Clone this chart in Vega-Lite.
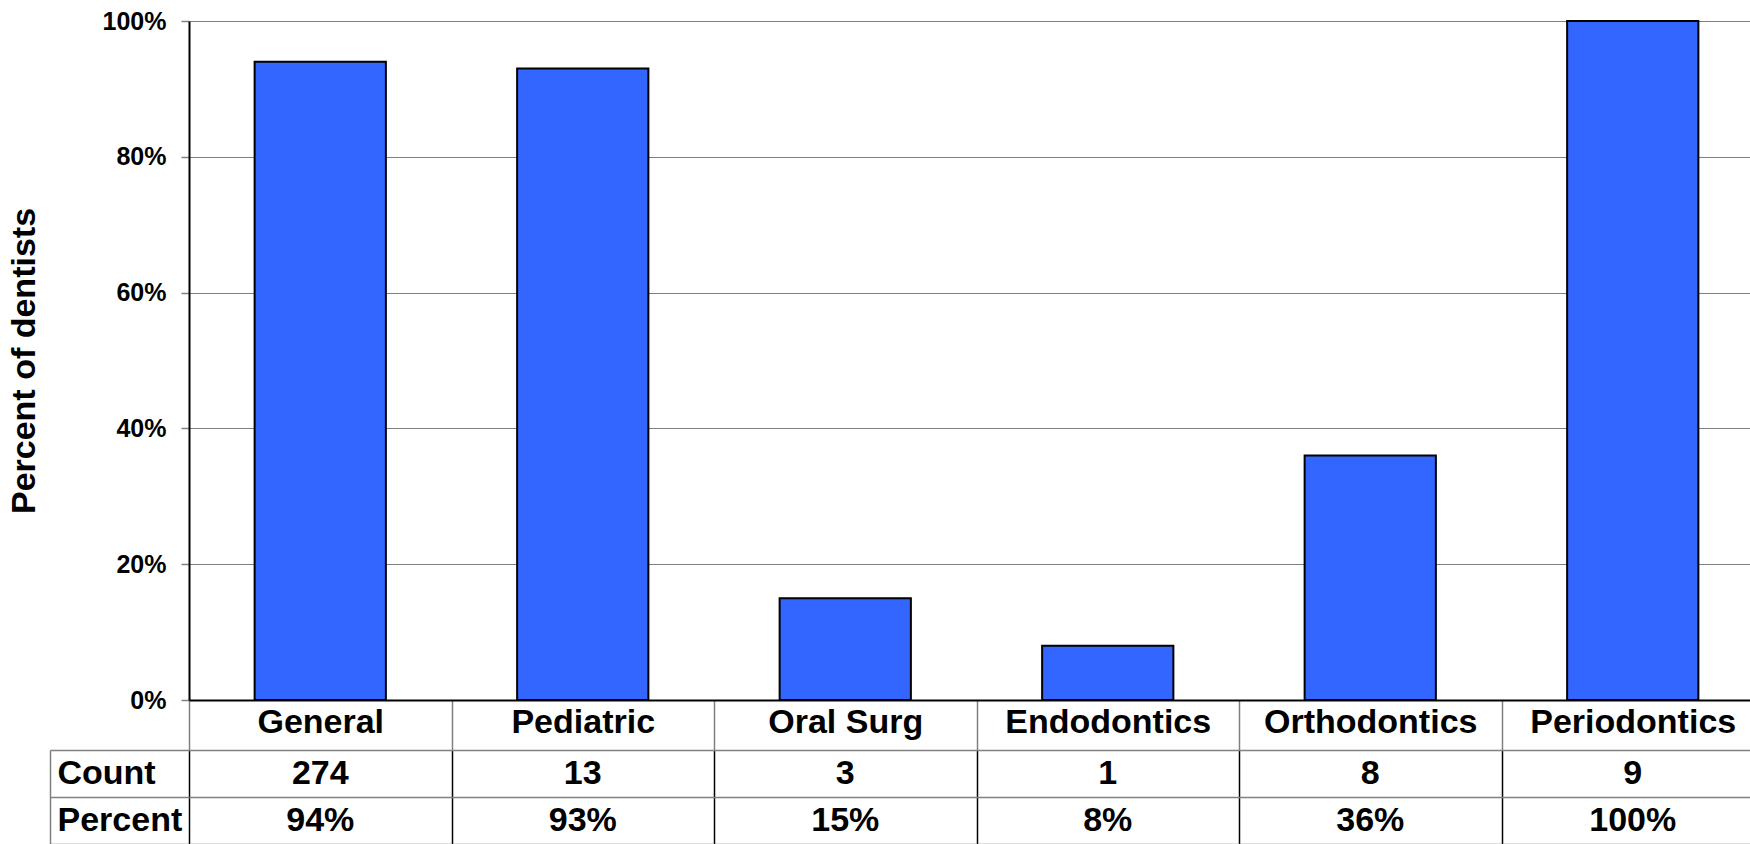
{
  "$schema": "https://vega.github.io/schema/vega-lite/v6.json",
  "padding": {"left": 7, "top": 9, "right": 0, "bottom": 0},
  "background": "white",
  "spacing": 50,
  "bounds": "flush",
  "datasets": {
    "dentists": [
      {"specialty": "General", "pct": 94, "Count": "274", "Percent": "94%"},
      {"specialty": "Pediatric", "pct": 93, "Count": "13", "Percent": "93%"},
      {"specialty": "Oral Surg", "pct": 15, "Count": "3", "Percent": "15%"},
      {"specialty": "Endodontics", "pct": 8, "Count": "1", "Percent": "8%"},
      {"specialty": "Orthodontics", "pct": 36, "Count": "8", "Percent": "36%"},
      {"specialty": "Periodontics", "pct": 100, "Count": "9", "Percent": "100%"}
    ]
  },
  "vconcat": [
    {
      "width": 1575,
      "height": 679,
      "data": {"name": "dentists"},
      "mark": {"type": "bar", "fill": "#3366FF", "stroke": "black", "strokeWidth": 2, "width": {"band": 0.5}},
      "encoding": {
        "x": {
          "field": "specialty",
          "type": "nominal",
          "sort": null,
          "scale": {"paddingInner": 0, "paddingOuter": 0},
          "axis": {
            "title": null,
            "labelAngle": 0,
            "labelLimit": 600,
            "labelFont": "Liberation Sans",
            "labelFontSize": 34,
            "labelFontWeight": "bold",
            "labelColor": "black",
            "labelBaseline": "middle",
            "labelPadding": -28,
            "tickBand": "extent",
            "tickSize": 50,
            "tickColor": "#808080",
            "tickWidth": 1.5,
            "domainColor": "black",
            "domainWidth": 2
          }
        },
        "y": {
          "field": "pct",
          "type": "quantitative",
          "scale": {"domain": [0, 100], "nice": false},
          "axis": {
            "values": [0, 20, 40, 60, 80, 100],
            "labelExpr": "datum.value + '%'",
            "labelFont": "Liberation Sans",
            "labelFontSize": 25,
            "labelFontWeight": "bold",
            "labelColor": "black",
            "labelPadding": 15,
            "tickSize": 8,
            "tickColor": "#808080",
            "tickWidth": 1.5,
            "grid": true,
            "gridColor": "#808080",
            "gridWidth": 1.2,
            "domainColor": "black",
            "domainWidth": 2,
            "title": "Percent of dentists",
            "titleFont": "Liberation Sans",
            "titleFontSize": 34,
            "titleFontWeight": "bold",
            "titleColor": "black",
            "titleX": -148
          }
        }
      }
    },
    {
      "width": 1575,
      "height": 94,
      "data": {"name": "dentists"},
      "transform": [{"fold": ["Count", "Percent"], "as": ["row", "value"]}],
      "mark": {"type": "text", "font": "Liberation Sans", "fontSize": 34, "fontWeight": "bold", "color": "black", "align": "center", "baseline": "middle"},
      "encoding": {
        "x": {
          "field": "specialty",
          "type": "nominal",
          "sort": null,
          "scale": {"paddingInner": 0, "paddingOuter": 0},
          "axis": {
            "title": null,
            "labels": false,
            "ticks": false,
            "domain": false,
            "grid": true,
            "tickBand": "extent",
            "gridColor": "black",
            "gridWidth": 1.5
          }
        },
        "y": {
          "field": "row",
          "type": "nominal",
          "sort": ["Count", "Percent"],
          "scale": {"paddingInner": 0, "paddingOuter": 0},
          "axis": {
            "title": null,
            "offset": 139,
            "domain": true,
            "domainColor": "#808080",
            "domainWidth": 1.5,
            "ticks": true,
            "tickSize": -139,
            "tickColor": "#808080",
            "tickWidth": 1.5,
            "tickBand": "extent",
            "grid": true,
            "gridColor": "#808080",
            "gridWidth": 1.5,
            "labelAlign": "left",
            "labelPadding": 132,
            "labelFont": "Liberation Sans",
            "labelFontSize": 34,
            "labelFontWeight": "bold",
            "labelColor": "black",
            "labelBaseline": "middle"
          }
        },
        "text": {"field": "value", "type": "nominal"}
      }
    }
  ],
  "config": {"view": {"stroke": null}}
}
